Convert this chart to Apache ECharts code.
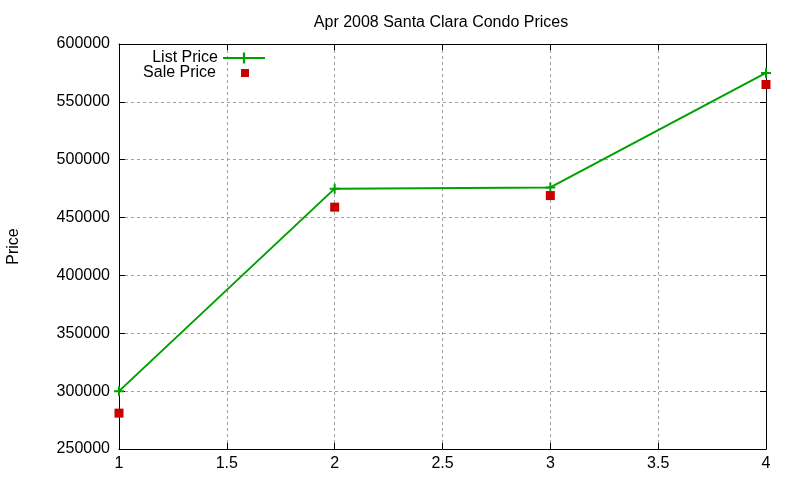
<!DOCTYPE html>
<html>
<head>
<meta charset="utf-8">
<script src="https://cdn.jsdelivr.net/npm/echarts@6/dist/echarts.min.js"></script>
<style>
  html, body { margin: 0; padding: 0; background: #fff; }
  #chart { width: 800px; height: 480px; }
</style>
</head>
<body>
<div id="chart"></div>
<script>
// month index on x, price on y
const xValues = [1, 2, 3, 4];
const listPrice = [300000, 475000, 476000, 575000];
const salePrice = [281000, 459000, 469000, 565000];

const font = 'Liberation Sans, Arial, sans-serif';
const plus = 'path://M4,0h2v4h4v2h-4v4h-2v-4h-4v-2h4z';
const square = 'path://M0,0h10v10h-10z';
const grey = '#a0a0a0';

const label = { fontFamily: font, fontSize: 16, color: '#000' };
const tick = { show: true, inside: true, length: 6, lineStyle: { color: '#000' } };
const dash = { show: true, lineStyle: { color: grey, type: [3, 3], width: 1 } };

const chart = echarts.init(document.getElementById('chart'));

const option = {
    animation: false,
    backgroundColor: '#fff',
    title: {
        text: 'Apr 2008 Santa Clara Condo Prices',
        left: 436,
        textAlign: 'center',
        top: 10,
        textStyle: { fontFamily: font, fontSize: 16, fontWeight: 'normal', color: '#000' }
    },
    legend: [{
        data: ['List Price'],
        orient: 'vertical',
        align: 'right',
        right: 534,
        top: 50,
        padding: 0,
        itemWidth: 42,
        itemHeight: 14,
        textStyle: label
    }, {
        data: [{ name: 'Sale Price', icon: square }],
        orient: 'vertical',
        align: 'right',
        right: 551,
        top: 65,
        padding: 0,
        itemWidth: 8,
        itemHeight: 8,
        textStyle: Object.assign({ padding: [0, 20, 0, 0], lineHeight: 16 }, label)
    }],
    grid: {
        left: 119,
        right: 34,
        top: 44,
        bottom: 31,
        containLabel: false,
        outerBoundsMode: 'none'
    },
    xAxis: [{
        type: 'value',
        min: 1,
        max: 4,
        interval: 0.5,
        axisLine: { show: true, lineStyle: { color: '#000' } },
        axisTick: tick,
        axisLabel: Object.assign({ margin: 7 }, label),
        splitLine: dash
    }, {
        type: 'value',
        position: 'top',
        min: 1,
        max: 4,
        interval: 0.5,
        axisLine: { show: true, lineStyle: { color: '#000' } },
        axisTick: tick,
        axisLabel: { show: false },
        splitLine: { show: false }
    }],
    yAxis: [{
        type: 'value',
        name: 'Price',
        nameLocation: 'middle',
        nameGap: 97,
        nameTextStyle: label,
        min: 250000,
        max: 600000,
        interval: 50000,
        axisLine: { show: true, lineStyle: { color: '#000' } },
        axisTick: tick,
        axisLabel: Object.assign({ margin: 9, formatter: v => String(v) }, label),
        splitLine: dash
    }, {
        type: 'value',
        position: 'right',
        min: 250000,
        max: 600000,
        interval: 50000,
        axisLine: { show: true, lineStyle: { color: '#000' } },
        axisTick: tick,
        axisLabel: { show: false },
        splitLine: { show: false }
    }],
    series: [{
        name: 'List Price',
        type: 'line',
        data: xValues.map((x, i) => [x, listPrice[i]]),
        symbol: plus,
        symbolSize: 10,
        showAllSymbol: true,
        color: '#00a000',
        lineStyle: { color: '#00a000', width: 2 },
        itemStyle: { color: '#00a000', opacity: 1 },
        z: 3
    }, {
        name: 'Sale Price',
        type: 'scatter',
        data: xValues.map((x, i) => [x, salePrice[i]]),
        symbol: square,
        symbolSize: 9,
        color: '#c80000',
        itemStyle: { color: '#c80000', opacity: 1 },
        z: 4
    }]
};

chart.setOption(option);
</script>
</body>
</html>
